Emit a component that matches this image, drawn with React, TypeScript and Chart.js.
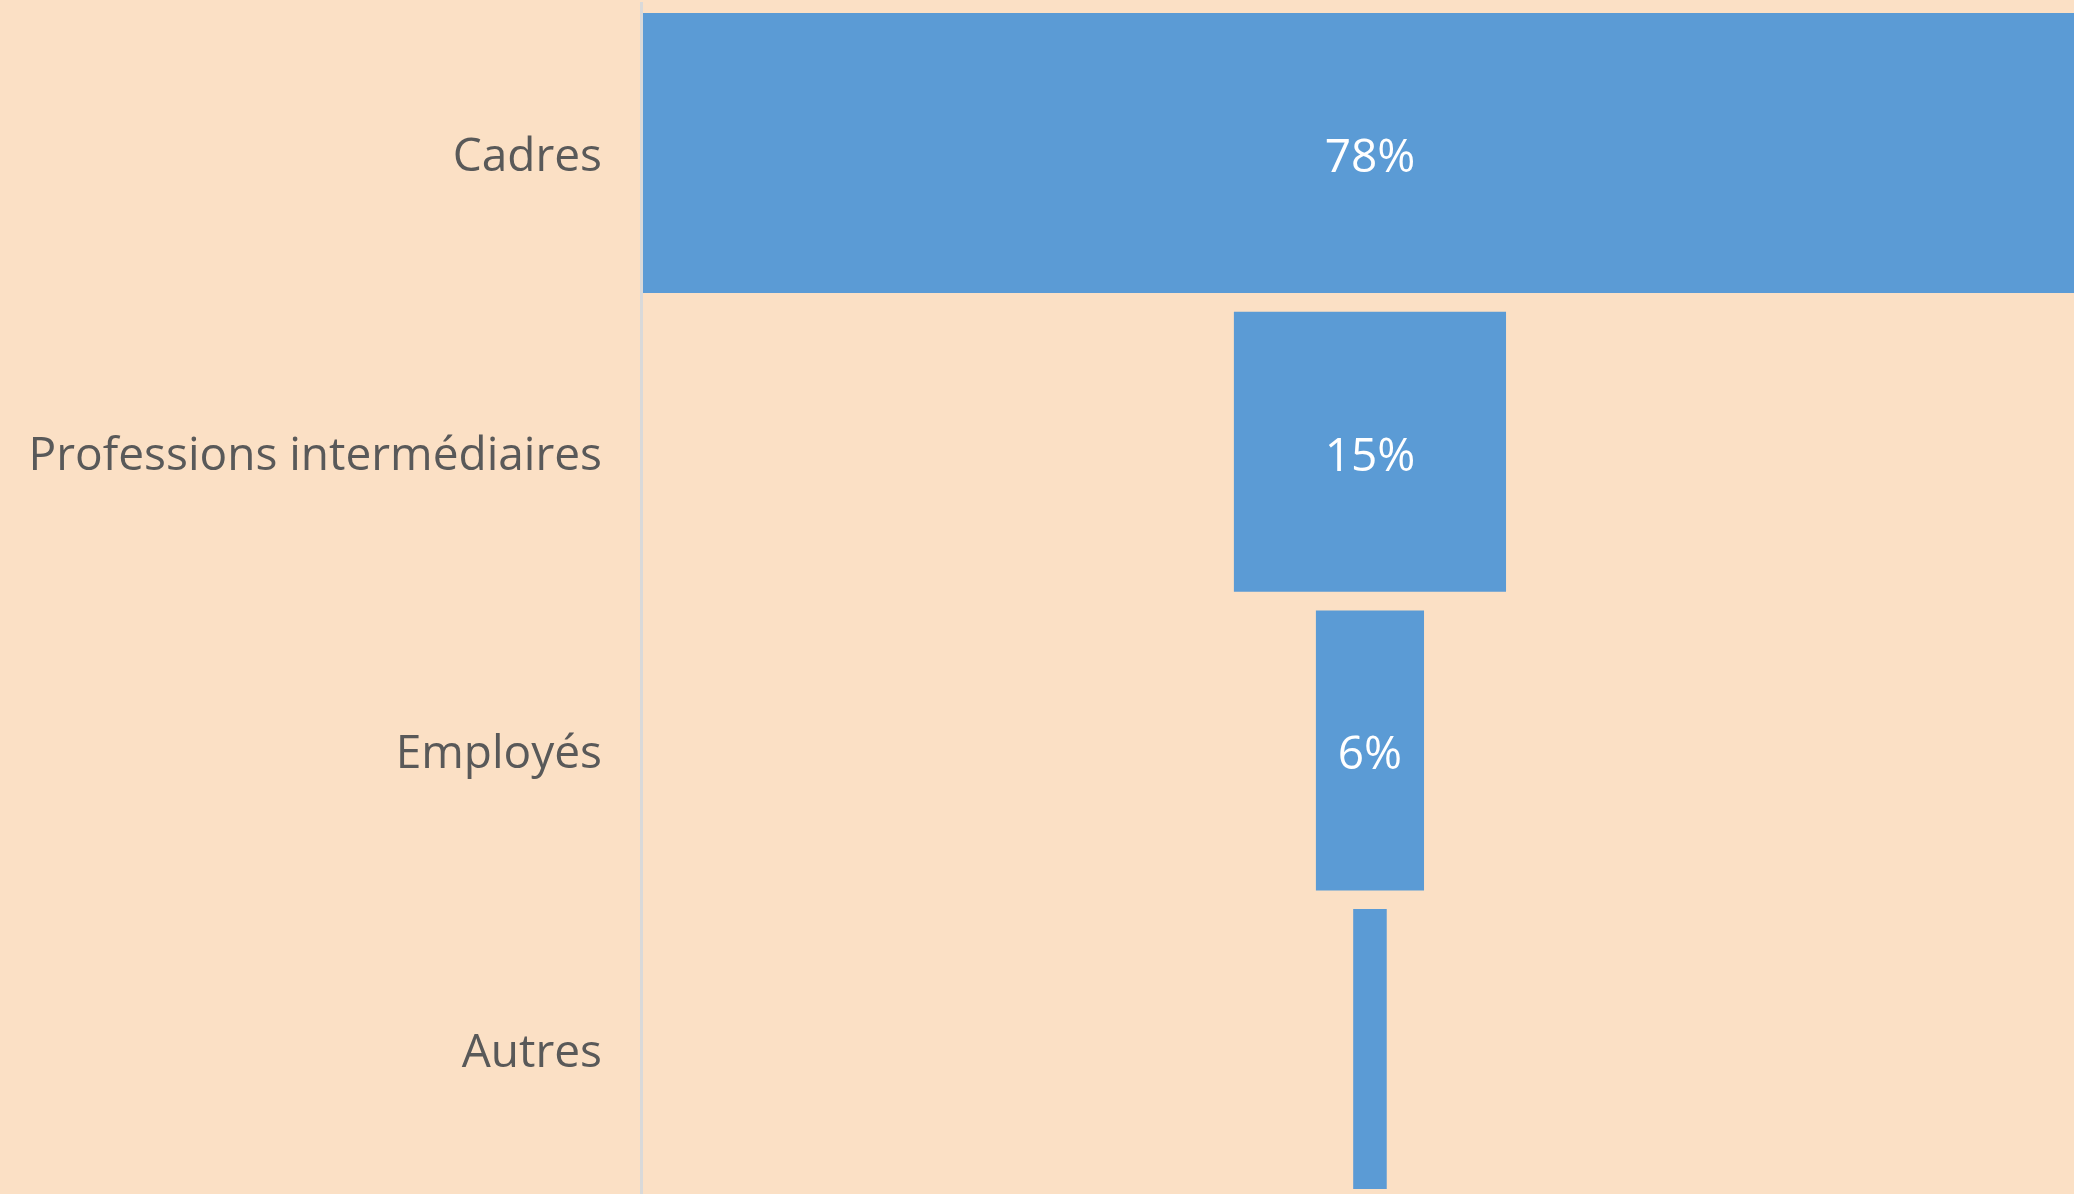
import React, { useEffect, useRef } from "react";
import { Chart, registerables } from "chart.js";

Chart.register(...registerables);

const categories = ["Cadres", "Professions intermédiaires", "Employés", "Autres"];
const shares = [78, 14.6, 5.8, 1.8];

const BG = "#FBE0C5";
const BAR = "#5B9BD5";
const AXIS = "#D9D9D9";
const FONT = "'Open Sans', 'Noto Sans', sans-serif";

const axisLine = {
  id: "axisLine",
  beforeDatasetsDraw(chart: any) {
    const { ctx, chartArea } = chart;
    ctx.save();
    ctx.fillStyle = AXIS;
    ctx.fillRect(chartArea.left - 3, 2, 3, chart.height);
    ctx.restore();
  },
};

const valueLabels = {
  id: "valueLabels",
  afterDatasetsDraw(chart: any) {
    const { ctx } = chart;
    const meta = chart.getDatasetMeta(0);
    ctx.save();
    ctx.font = `46px ${FONT}`;
    ctx.fillStyle = "#FFFFFF";
    ctx.textAlign = "center";
    ctx.textBaseline = "middle";
    meta.data.forEach((bar: any, i: number) => {
      const text = Math.round(shares[i]) + "%";
      const w = Math.abs(bar.x - bar.base);
      const tw = ctx.measureText(text).width;
      if (tw + 8 > w) return;
      const cx = (bar.x + bar.base) / 2;
      ctx.fillText(text, cx, bar.y + 6);
    });
    ctx.restore();
  },
};

export default function App() {
  const ref = useRef<HTMLCanvasElement | null>(null);
  useEffect(() => {
    if (!ref.current) return;
    const chart = new Chart(ref.current, {
      type: "bar",
      data: {
        labels: categories,
        datasets: [
          {
            data: shares.map((v) => [-v / 2, v / 2]) as any,
            backgroundColor: BAR,
            borderWidth: 0,
            barPercentage: 1,
            categoryPercentage: 0.9375,
          },
        ],
      },
      options: {
        indexAxis: "y",
        animation: false,
        responsive: false,
        maintainAspectRatio: false,
        layout: { padding: { top: 3.7, bottom: 1.6, left: 0, right: 0 } },
        plugins: { legend: { display: false }, tooltip: { enabled: false } },
        scales: {
          x: { display: false, min: -39, max: 37.77 },
          y: {
            display: true,
            grid: { display: false, drawTicks: false },
            border: { display: false },
            ticks: {
              padding: 41,
              labelOffset: 5,
              color: "#595959",
              font: { family: FONT, size: 46 },
            },
            afterFit: (scale: any) => {
              scale.width = 643;
              scale.paddingTop = 0;
              scale.paddingBottom = 0;
            },
          },
        },
      },
      plugins: [axisLine, valueLabels],
    });
    return () => chart.destroy();
  }, []);
  return (
    <div
      style={{
        position: "fixed",
        left: 0,
        top: 0,
        width: 2074,
        height: 1194,
        overflow: "hidden",
        background: BG,
      }}
    >
      <canvas ref={ref} width={2074} height={1200} style={{ display: "block", width: 2074, height: 1200 }} />
    </div>
  );
}
